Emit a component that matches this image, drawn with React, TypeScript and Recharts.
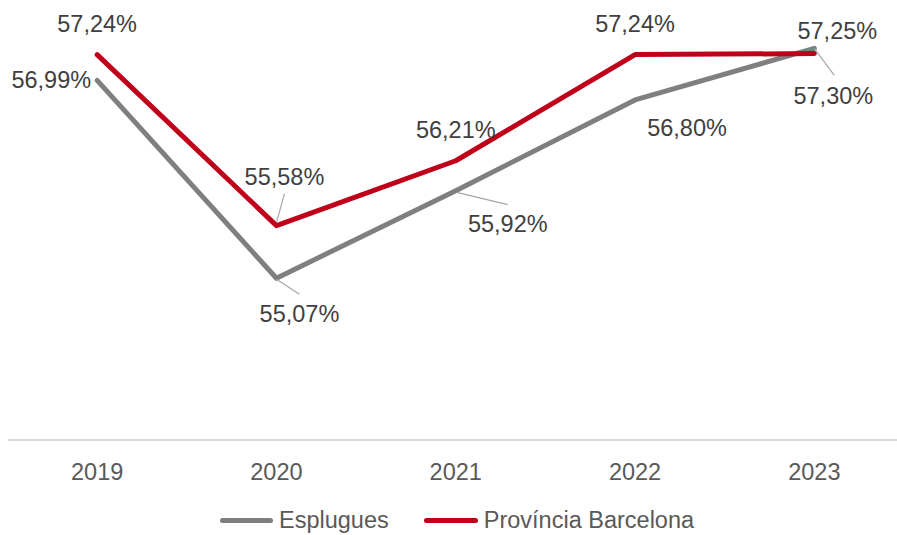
import React from 'react';
import { LineChart, Line, XAxis, YAxis, LabelList } from 'recharts';

const categories = ['2019', '2020', '2021', '2022', '2023'];
const espluguesValues = [56.99, 55.07, 55.92, 56.8, 57.3];
const provinciaValues = [57.24, 55.58, 56.21, 57.24, 57.25];
const seriesNames = ['Esplugues', 'Província Barcelona'];

const data = categories.map((year, i) => ({
  year,
  esplugues: espluguesValues[i],
  provincia: provinciaValues[i],
}));

const GRAY = '#7F7F7F';
const RED = '#C0001A';
const FONT = '"Liberation Sans", Arial, sans-serif';
const FS = 23.5;

type Pos = { dx: number; dy: number; anchor?: 'start' | 'middle' | 'end'; leader?: number[] };

// label centre offsets relative to each point (style only)
const espLabelPos: Pos[] = [
  { dx: -6, dy: -1, anchor: 'end' },
  { dx: 23, dy: 35, leader: [0, 1, 23, 16] },
  { dx: 52, dy: 33, leader: [2, 2, 52, 14] },
  { dx: 52, dy: 28 },
  { dx: 19, dy: 47, leader: [0, 0, 20, 27] },
];
const provLabelPos: Pos[] = [
  { dx: 0, dy: -31 },
  { dx: 8, dy: -49, leader: [0, -3, 8, -32] },
  { dx: 0, dy: -31 },
  { dx: 0, dy: -31 },
  { dx: 23, dy: -23 },
];

const fmt = (v: number) => v.toFixed(2).replace('.', ',') + '%';

const makeLabel = (positions: Pos[]) => (props: any) => {
  const { x, y, value, index } = props;
  const p = positions[index];
  if (!p) return null;
  const cx = x + p.dx;
  const cy = y + p.dy;
  return (
    <g>
      {p.leader && (
        <line
          x1={x + p.leader[0]}
          y1={y + p.leader[1]}
          x2={x + p.leader[2]}
          y2={y + p.leader[3]}
          stroke="#A6A6A6"
          strokeWidth={1.2}
        />
      )}
      <text
        x={cx}
        y={cy + FS * 0.358}
        textAnchor={p.anchor || 'middle'}
        fontFamily={FONT}
        fontSize={FS}
        fill="#404040"
      >
        {fmt(value)}
      </text>
    </g>
  );
};

const Tick = (props: any) => {
  const { x, y, payload } = props;
  return (
    <text x={x} y={y + 40} textAnchor="middle" fontFamily={FONT} fontSize={FS} fill="#595959">
      {payload.value}
    </text>
  );
};

const LegendItem = ({ color, label, width }: { color: string; label: string; width: number }) => (
  <div style={{ display: 'flex', alignItems: 'center', marginRight: 35 }}>
    <div style={{ width, height: 5, background: color, borderRadius: 3, marginRight: 6 }} />
    <span style={{ fontFamily: FONT, fontSize: FS, color: '#595959', lineHeight: '28px' }}>{label}</span>
  </div>
);

export default function App() {
  return (
    <div
      style={{
        position: 'absolute',
        left: 0,
        top: 0,
        width: 897,
        height: 535,
        overflow: 'hidden',
        background: '#fff',
      }}
    >
      <LineChart
        width={912}
        height={535}
        data={data}
        margin={{ top: 0, right: 8, bottom: 65, left: 7.5 }}
      >
        <XAxis
          dataKey="year"
          axisLine={{ stroke: '#D9D9D9', strokeWidth: 2 }}
          tickLine={false}
          tickSize={0}
          tickMargin={0}
          tick={<Tick />}
          interval={0}
          padding={{ left: 89.65, right: 89.65 }}
        />
        <YAxis hide domain={[53.5, 57.77]} />
        <Line
          type="linear"
          dataKey="esplugues"
          name={seriesNames[0]}
          stroke={GRAY}
          strokeWidth={5}
          strokeLinecap="round"
          strokeLinejoin="round"
          dot={false}
          activeDot={false}
          isAnimationActive={false}
        >
          <LabelList dataKey="esplugues" content={makeLabel(espLabelPos)} />
        </Line>
        <Line
          type="linear"
          dataKey="provincia"
          name={seriesNames[1]}
          stroke={RED}
          strokeWidth={5}
          strokeLinecap="round"
          strokeLinejoin="round"
          dot={false}
          activeDot={false}
          isAnimationActive={false}
        >
          <LabelList dataKey="provincia" content={makeLabel(provLabelPos)} />
        </Line>
      </LineChart>
      <div
        style={{
          position: 'absolute',
          left: 220,
          top: 506,
          display: 'flex',
          alignItems: 'center',
        }}
      >
        <LegendItem color={GRAY} label={seriesNames[0]} width={53} />
        <LegendItem color={RED} label={seriesNames[1]} width={54} />
      </div>
    </div>
  );
}
